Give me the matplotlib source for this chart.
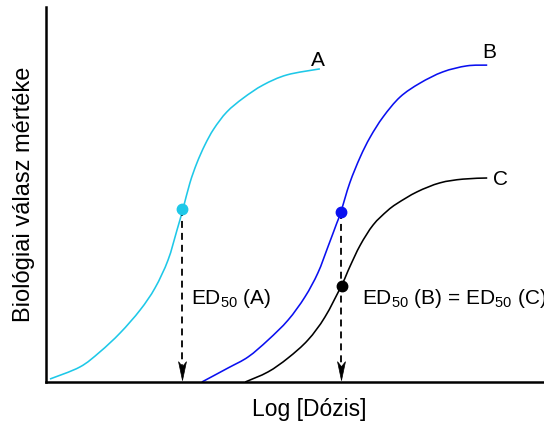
import numpy as np
import matplotlib
matplotlib.use("Agg")
import matplotlib.pyplot as plt
from matplotlib.path import Path
from matplotlib.patches import PathPatch

plt.rcParams['font.family'] = ['Liberation Sans', 'DejaVu Sans']
plt.rcParams['mathtext.fontset'] = 'custom'
plt.rcParams['mathtext.rm'] = 'Liberation Sans'
plt.rcParams['lines.scale_dashes'] = False

# curve A (cyan)
a_x = [0.08, 0.68, 1.08, 1.49, 1.89, 2.19, 2.45, 2.63, 2.75, 2.89, 3.03, 3.19,
       3.37, 3.63, 3.96, 4.36, 4.84, 5.50]
a_y = [0.8, 4.0, 8.0, 13.1, 19.2, 25.1, 32.5, 40.5, 46.1, 53.1, 58.4, 63.2,
       67.5, 72.0, 75.7, 79.2, 81.9, 83.5]

# curve B (blue)
b_x = [3.13, 3.65, 4.06, 4.46, 4.86, 5.20, 5.46, 5.66, 5.84, 5.92, 6.10, 6.31,
       6.51, 6.77, 7.11, 7.51, 7.97, 8.45, 8.86]
b_y = [0.0, 3.7, 6.7, 11.2, 16.5, 22.7, 29.1, 36.0, 42.4, 45.3, 53.1, 60.0,
       65.3, 70.7, 76.0, 79.7, 82.7, 84.3, 84.5]

# curve C (black)
c_x = [4.00, 4.46, 4.86, 5.26, 5.60, 5.94, 6.10, 6.31, 6.57, 6.85, 7.05, 7.45,
       7.91, 8.37, 8.86]
c_y = [0.0, 2.7, 6.4, 11.2, 17.3, 25.9, 30.7, 36.5, 41.9, 45.6, 47.6, 50.7,
       53.1, 54.1, 54.4]

# ED50 points
ed_x = [2.73, 5.92, 5.94]
ed_y = [46.1, 45.3, 25.6]

cyan = '#1ec8e8'
blue = '#0a10f0'
ed_col = [cyan, blue, 'black']


def smooth_curve(ax, xs, ys, color):
    # catmull-rom style bezier through the read points
    p = np.column_stack([xs, ys])
    n = len(p)
    verts = [tuple(p[0])]
    codes = [Path.MOVETO]
    for i in range(n - 1):
        p0 = p[max(i - 1, 0)]
        p3 = p[min(i + 2, n - 1)]
        c1 = p[i] + (p[i + 1] - p0) / 6
        c2 = p[i + 1] - (p3 - p[i]) / 6
        verts += [tuple(c1), tuple(c2), tuple(p[i + 1])]
        codes += [Path.CURVE4] * 3
    ax.add_patch(PathPatch(Path(verts, codes), fill=False, edgecolor=color,
                           lw=1.15, capstyle='butt'))


fig = plt.figure(figsize=(5.44, 4.23), dpi=100)
ax = fig.add_axes([46 / 544, 41 / 423, 498 / 544, 375 / 423])
ax.set_xlim(0, 10)
ax.set_ylim(0, 100)

smooth_curve(ax, a_x, a_y, cyan)
smooth_curve(ax, b_x, b_y, blue)
smooth_curve(ax, c_x, c_y, 'black')

# dashed drop lines with arrowheads
head = Path([(0, 0), (-4, 19), (0, 14), (4, 19), (0, 0)],
            [Path.MOVETO, Path.LINETO, Path.LINETO, Path.LINETO, Path.CLOSEPOLY])
for x0, y0 in [(ed_x[0], ed_y[0]), (ed_x[1], ed_y[1])]:
    ax.plot([x0, x0], [y0, 3], color='black', lw=1.3, dashes=(5, 3.6))
    ax.plot([x0], [0.6], marker=head, markersize=27, color='black',
            markeredgewidth=0.5, clip_on=False, zorder=5)

for x, y, c in zip(ed_x, ed_y, ed_col):
    ax.plot([x], [y], 'o', color=c, markersize=7.5, zorder=6)

ax.text(5.46, 83.3, 'A', fontsize=15, ha='center', va='bottom')
ax.text(8.90, 85.2, 'B', fontsize=15, ha='center', va='bottom')
ax.text(8.98, 53.9, 'C', fontsize=15, ha='left', va='center')

ax.text(2.91, 20.8, r'ED$_{50}$ (A)', fontsize=15, ha='left', va='baseline')
ax.text(6.35, 20.8, r'ED$_{50}$ (B) = ED$_{50}$ (C)', fontsize=15,
        ha='left', va='baseline')

for s in ['top', 'right']:
    ax.spines[s].set_visible(False)
ax.spines['left'].set_linewidth(1.8)
ax.spines['bottom'].set_linewidth(1.8)
ax.set_xticks([])
ax.set_yticks([])

ax.set_xlabel('Log [Dózis]', fontsize=16.5)
ax.xaxis.set_label_coords((309 - 46) / 498, -0.042)
ax.set_ylabel('Biológiai válasz mértéke', fontsize=17, labelpad=8)

fig.savefig('out.png', dpi=100)
